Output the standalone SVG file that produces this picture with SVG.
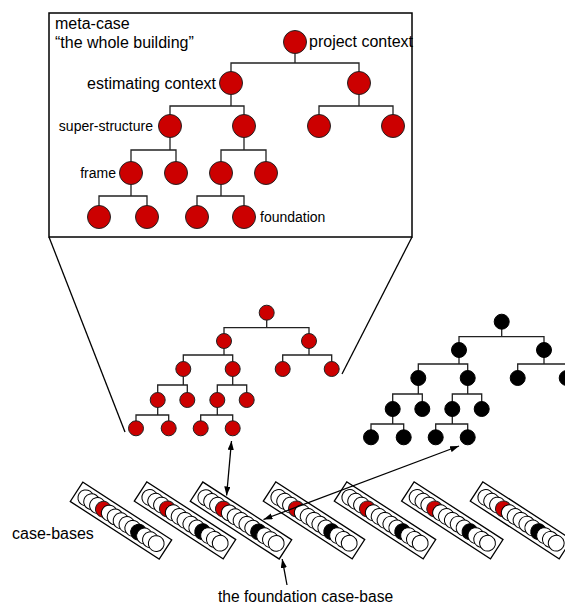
<svg xmlns="http://www.w3.org/2000/svg" xmlns:xlink="http://www.w3.org/1999/xlink" width="565" height="605" viewBox="0 0 565 605">
<style>
text{font-family:"Liberation Sans",Arial,sans-serif;fill:#000}
.r{fill:#cc0000;stroke:#222;stroke-width:1}
.k{fill:#000;stroke:#000;stroke-width:1}
.w{fill:#fff;stroke:#000;stroke-width:1}
.e{fill:none;stroke:#222;stroke-width:1.3}
.ln{fill:none;stroke:#000;stroke-width:1.3}
.ar{fill:none;stroke:#000;stroke-width:1.3;marker-start:url(#ah);marker-end:url(#ah)}
.ar1{fill:none;stroke:#000;stroke-width:1.3;marker-end:url(#ah)}
</style>
<defs>
<marker id="ah" viewBox="0 0 10 7" refX="10" refY="3.5" markerWidth="9" markerHeight="6.3" markerUnits="userSpaceOnUse" orient="auto-start-reverse"><path d="M0,0 L10,3.5 L0,7 z" fill="#000"/></marker>
<g id="cb">
<rect x="-53" y="-11.5" width="106" height="23" fill="#fff" stroke="#000" stroke-width="1.3"/>
<circle class="w" cx="-42" cy="0" r="7.9"/>
<circle class="w" cx="-35" cy="0" r="7.9"/>
<circle class="w" cx="-28" cy="0" r="7.9"/>
<circle class="r" cx="-21" cy="0" r="7.9" stroke="#000"/>
<circle class="w" cx="-14" cy="0" r="7.9"/>
<circle class="w" cx="-7" cy="0" r="7.9"/>
<circle class="w" cx="0" cy="0" r="7.9"/>
<circle class="w" cx="7" cy="0" r="7.9"/>
<circle class="w" cx="14" cy="0" r="7.9"/>
<circle class="k" cx="21" cy="0" r="7.9"/>
<circle class="w" cx="28" cy="0" r="7.9"/>
<circle class="w" cx="35" cy="0" r="7.9"/>
<circle class="w" cx="42" cy="0" r="7.9"/>
</g>
</defs>
<rect width="565" height="605" fill="#fff"/>

<g id="connectors">
<g id="meta-edges" class="e">
<path d="M295,42 V63 M231,83 V63 H359 V83"/>
<path d="M231,83 V106 M170,126 V106 H244 V126"/>
<path d="M359,83 V106 M319,126 V106 H393 V126"/>
<path d="M170,126 V150 M131,173 V150 H176 V173"/>
<path d="M244,126 V150 M221,173 V150 H266 V173"/>
<path d="M131,173 V196 M99,217 V196 H147 V217"/>
<path d="M221,173 V196 M197,217 V196 H244 V217"/>
</g>
<g id="red-edges" class="e">
<path d="M266.7,312.7 V327.7 M224,341 V327.7 H309 V341"/>
<path d="M224,341 V355 M183.3,369 V355 H232.7 V369"/>
<path d="M309,341 V355 M282.7,369 V355 H331.7 V369"/>
<path d="M183.3,369 V385 M157.7,400 V385 H187.3 V400"/>
<path d="M232.7,369 V385 M217.3,400 V385 H246.7 V400"/>
<path d="M157.7,400 V415 M136,428.3 V415 H168.7 V428.3"/>
<path d="M217.3,400 V415 M200.7,428.3 V415 H232.7 V428.3"/>
</g>
<g id="black-edges" class="e" transform="translate(235,9)">
<path d="M266.7,312.7 V327.7 M224,341 V327.7 H309 V341"/>
<path d="M224,341 V355 M183.3,369 V355 H232.7 V369"/>
<path d="M309,341 V355 M282.7,369 V355 H331.7 V369"/>
<path d="M183.3,369 V385 M157.7,400 V385 H187.3 V400"/>
<path d="M232.7,369 V385 M217.3,400 V385 H246.7 V400"/>
<path d="M157.7,400 V415 M136,428.3 V415 H168.7 V428.3"/>
<path d="M217.3,400 V415 M200.7,428.3 V415 H232.7 V428.3"/>
</g>
<path id="zoom-left" class="ln" d="M49,237 L125,432"/>
<path id="zoom-right" class="ln" d="M412,237 L342,374"/>
</g>

<g id="meta-case">
<rect x="49" y="13" width="363" height="224" fill="none" stroke="#000" stroke-width="1.5"/>
<text x="55" y="28.5" font-size="16">meta-case</text>
<text x="55" y="47.5" font-size="16">“the whole building”</text>
<g id="m-root"><circle class="r" cx="295" cy="42" r="11.5"/><text x="309" y="46.5" font-size="16">project context</text></g>
<g id="m-a"><circle class="r" cx="231" cy="83" r="11.5"/><text x="216" y="89" font-size="16" text-anchor="end">estimating context</text></g>
<g id="m-b"><circle class="r" cx="359" cy="83" r="11.5"/></g>
<g id="m-a1"><circle class="r" cx="170" cy="126" r="11.5"/><text x="153" y="130.5" font-size="14" text-anchor="end">super-structure</text></g>
<g id="m-a2"><circle class="r" cx="244" cy="126" r="11.5"/></g>
<g id="m-b1"><circle class="r" cx="319" cy="126" r="11.5"/></g>
<g id="m-b2"><circle class="r" cx="393" cy="126" r="11.5"/></g>
<g id="m-a1a"><circle class="r" cx="131" cy="173" r="11.5"/><text x="116" y="177.5" font-size="14" text-anchor="end">frame</text></g>
<g id="m-a1b"><circle class="r" cx="176" cy="173" r="11.5"/></g>
<g id="m-a2a"><circle class="r" cx="221" cy="173" r="11.5"/></g>
<g id="m-a2b"><circle class="r" cx="266" cy="173" r="11.5"/></g>
<g id="m-l1"><circle class="r" cx="99" cy="217" r="11.5"/></g>
<g id="m-l2"><circle class="r" cx="147" cy="217" r="11.5"/></g>
<g id="m-l3"><circle class="r" cx="197" cy="217" r="11.5"/></g>
<g id="m-l4"><circle class="r" cx="244" cy="217" r="11.5"/><text x="260" y="222" font-size="14">foundation</text></g>
</g>

<g id="red-tree">
<g id="r-root"><circle class="r" cx="266.7" cy="312.7" r="7.5"/></g>
<g id="r-a"><circle class="r" cx="224" cy="341" r="7.5"/></g>
<g id="r-b"><circle class="r" cx="309" cy="341" r="7.5"/></g>
<g id="r-a1"><circle class="r" cx="183.3" cy="369" r="7.5"/></g>
<g id="r-a2"><circle class="r" cx="232.7" cy="369" r="7.5"/></g>
<g id="r-b1"><circle class="r" cx="282.7" cy="369" r="7.5"/></g>
<g id="r-b2"><circle class="r" cx="331.7" cy="369" r="7.5"/></g>
<g id="r-a1a"><circle class="r" cx="157.7" cy="400" r="7.5"/></g>
<g id="r-a1b"><circle class="r" cx="187.3" cy="400" r="7.5"/></g>
<g id="r-a2a"><circle class="r" cx="217.3" cy="400" r="7.5"/></g>
<g id="r-a2b"><circle class="r" cx="246.7" cy="400" r="7.5"/></g>
<g id="r-l1"><circle class="r" cx="136" cy="428.3" r="7.5"/></g>
<g id="r-l2"><circle class="r" cx="168.7" cy="428.3" r="7.5"/></g>
<g id="r-l3"><circle class="r" cx="200.7" cy="428.3" r="7.5"/></g>
<g id="r-l4"><circle class="r" cx="232.7" cy="428.3" r="7.5"/></g>
</g>

<g id="black-tree" transform="translate(235,9)">
<g id="k-root"><circle class="k" cx="266.7" cy="312.7" r="7.5"/></g>
<g id="k-a"><circle class="k" cx="224" cy="341" r="7.5"/></g>
<g id="k-b"><circle class="k" cx="309" cy="341" r="7.5"/></g>
<g id="k-a1"><circle class="k" cx="183.3" cy="369" r="7.5"/></g>
<g id="k-a2"><circle class="k" cx="232.7" cy="369" r="7.5"/></g>
<g id="k-b1"><circle class="k" cx="282.7" cy="369" r="7.5"/></g>
<g id="k-b2"><circle class="k" cx="331.7" cy="369" r="7.5"/></g>
<g id="k-a1a"><circle class="k" cx="157.7" cy="400" r="7.5"/></g>
<g id="k-a1b"><circle class="k" cx="187.3" cy="400" r="7.5"/></g>
<g id="k-a2a"><circle class="k" cx="217.3" cy="400" r="7.5"/></g>
<g id="k-a2b"><circle class="k" cx="246.7" cy="400" r="7.5"/></g>
<g id="k-l1"><circle class="k" cx="136" cy="428.3" r="7.5"/></g>
<g id="k-l2"><circle class="k" cx="168.7" cy="428.3" r="7.5"/></g>
<g id="k-l3"><circle class="k" cx="200.7" cy="428.3" r="7.5"/></g>
<g id="k-l4"><circle class="k" cx="232.7" cy="428.3" r="7.5"/></g>
</g>

<g id="case-bases">
<g id="cb1"><use xlink:href="#cb" href="#cb" transform="translate(121,520.7) rotate(33)"/></g>
<g id="cb2"><use xlink:href="#cb" href="#cb" transform="translate(185,520.3) rotate(33)"/></g>
<g id="cb3"><use xlink:href="#cb" href="#cb" transform="translate(241,520.5) rotate(33)"/></g>
<g id="cb4"><use xlink:href="#cb" href="#cb" transform="translate(314,520.3) rotate(33)"/></g>
<g id="cb5"><use xlink:href="#cb" href="#cb" transform="translate(385,520.3) rotate(33)"/></g>
<g id="cb6"><use xlink:href="#cb" href="#cb" transform="translate(452.3,520.3) rotate(33)"/></g>
<g id="cb7"><use xlink:href="#cb" href="#cb" transform="translate(521,520.3) rotate(33)"/></g>
<text x="12" y="539" font-size="16">case-bases</text>
<text x="218" y="602" font-size="15.6">the foundation case-base</text>
</g>

<g id="arrows">
<path class="ar" d="M231.5,441 L226.6,495.5"/>
<path class="ar" d="M459,446 L263.5,519.5"/>
<path class="ar1" d="M287,585 L282.2,559"/>
</g>
</svg>
